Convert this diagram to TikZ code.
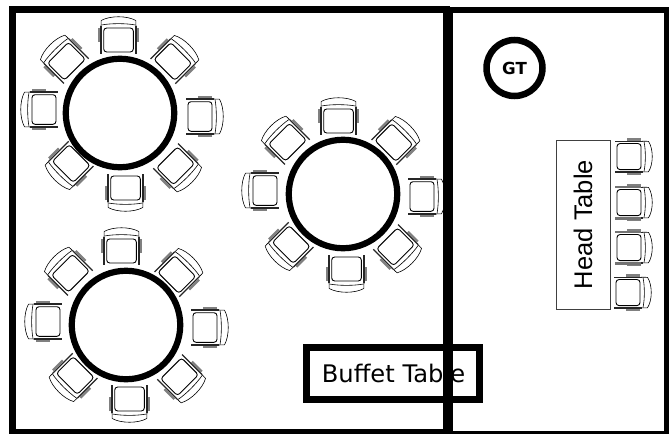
\documentclass[tikz,border=0pt]{standalone}
\usepackage{fontspec}
\setmainfont{DejaVu Sans}
\newfontfamily\arialfont{Liberation Sans}
\newcommand{\chairbody}{%
    \fill[white] (-18,-9) -- (-18,-15.5) .. controls (-9,-20.5) and (8,-20.5) .. (17,-15.5) -- (17,18) -- (-18,18) -- cycle;
    \draw[black,line width=0.6pt] (-18,-9) -- (-17.8,-15.5) .. controls (-9,-20.5) and (8,-20.5) .. (16.8,-15.5) -- (17,-9);
    \draw[black,line width=0.6pt] (-17.5,-11) .. controls (-8,-12.8) and (7,-12.8) .. (16.5,-11);
    \draw[black,line width=0.9pt,rounded corners=3pt] (-15.3,-8) rectangle (14.3,16);
    \draw[black!50,line width=2.2pt] (-20,-8) -- (-20,6);
    \draw[black!50,line width=2.2pt] (19,-8) -- (19,6);
    \draw[black!85,line width=1.3pt] (-18,-10) -- (-18,18);
    \draw[black!85,line width=1.3pt] (17,-10) -- (17,18);
}
\tikzset{
  x=1pt,y=-1pt,
  wall/.style={draw=black,line width=7pt,line join=miter},
  walltwo/.style={draw=black,line width=6pt,line join=miter},
  roundtable/.style={circle,draw=black,line width=6.2pt,fill=white,inner sep=0pt,minimum size=108.5pt},
  pics/chair/.style={code={\chairbody}},
  pics/darkchair/.style={code={
    \chairbody
    \draw[black!55,line width=2.2pt] (-18.5,-8) -- (-18.5,18);
    \draw[black!55,line width=2.2pt] (17.5,-8) -- (17.5,18);
  }}
}
\begin{document}
\begin{tikzpicture}
\useasboundingbox (0,0) rectangle (669,434);
\fill[white] (0,0) rectangle (669,434);
% table 1
\foreach \px/\py/\r in {119/36/0,176/59/-45,204/117/-90,178/169/-135,125/192/180,68/166/135,40/109/90,64/58/45}
  \pic[rotate=\r] at (\px,\py) {chair};
\node[roundtable] (tableone) at (120,113) {};
% table 2
\foreach \px/\py/\r in {339/117/0,397/140/-45,426/197/-90,398/250/-135,346/273/180,288/247/135,261/190/90,285/139/45}
  \pic[rotate=\r] at (\px,\py) {chair};
\node[roundtable] (tabletwo) at (343,194) {};
% table 3
\foreach \px/\py/\r in {122/247/0,180/272/-45,209/328/-90,182/380/-135,129/403/180,72/378/135,44/321/90,68/270/45}
  \pic[rotate=\r] at (\px,\py) {chair};
\node[roundtable] (tablethree) at (126,325) {};
% head table
\node[draw=black!75,line width=0.8pt,minimum width=54pt,minimum height=169pt,inner sep=0pt] (headtable) at (583,224.5) {};
\node[rotate=90,font=\arialfont\fontsize{25.5}{26}\selectfont,inner sep=0pt] (headlabel) at (583,224.5) {Head Table};
\pic[rotate=-90,xscale=0.88] at (633,157) {chair};
\pic[rotate=-90,xscale=0.88] at (633,203) {darkchair};
\pic[rotate=-90,xscale=0.88] at (633,248) {darkchair};
\pic[rotate=-90,xscale=0.88] at (632,293) {chair};
% guest table
\node[circle,draw=black,line width=6.5pt,minimum size=56pt,inner sep=0pt,font=\bfseries\fontsize{16.6}{17}\selectfont] (gt) at (514.5,68) {GT};
% buffet
\node[draw=black,line width=6.8pt,minimum width=173pt,minimum height=52pt,inner sep=0pt] (buffet) at (393,373.5) {};
\node[font=\fontsize{24.2}{25}\selectfont,inner sep=0pt] (buffetlabel) at (393.5,373) {Buffet Table};
% walls
\draw[walltwo] (450,431.5) -- (450,10) -- (666.5,10) -- (666.5,431.5);
\draw[black,line width=3pt] (450,432.5) -- (669,432.5);
\draw[wall] (12.5,9.5) -- (446.5,9.5) -- (446.5,431.5);
\draw[wall] (12.5,6) -- (12.5,431);
\draw[black,line width=5pt] (9,431.5) -- (450,431.5);
\end{tikzpicture}
\end{document}
